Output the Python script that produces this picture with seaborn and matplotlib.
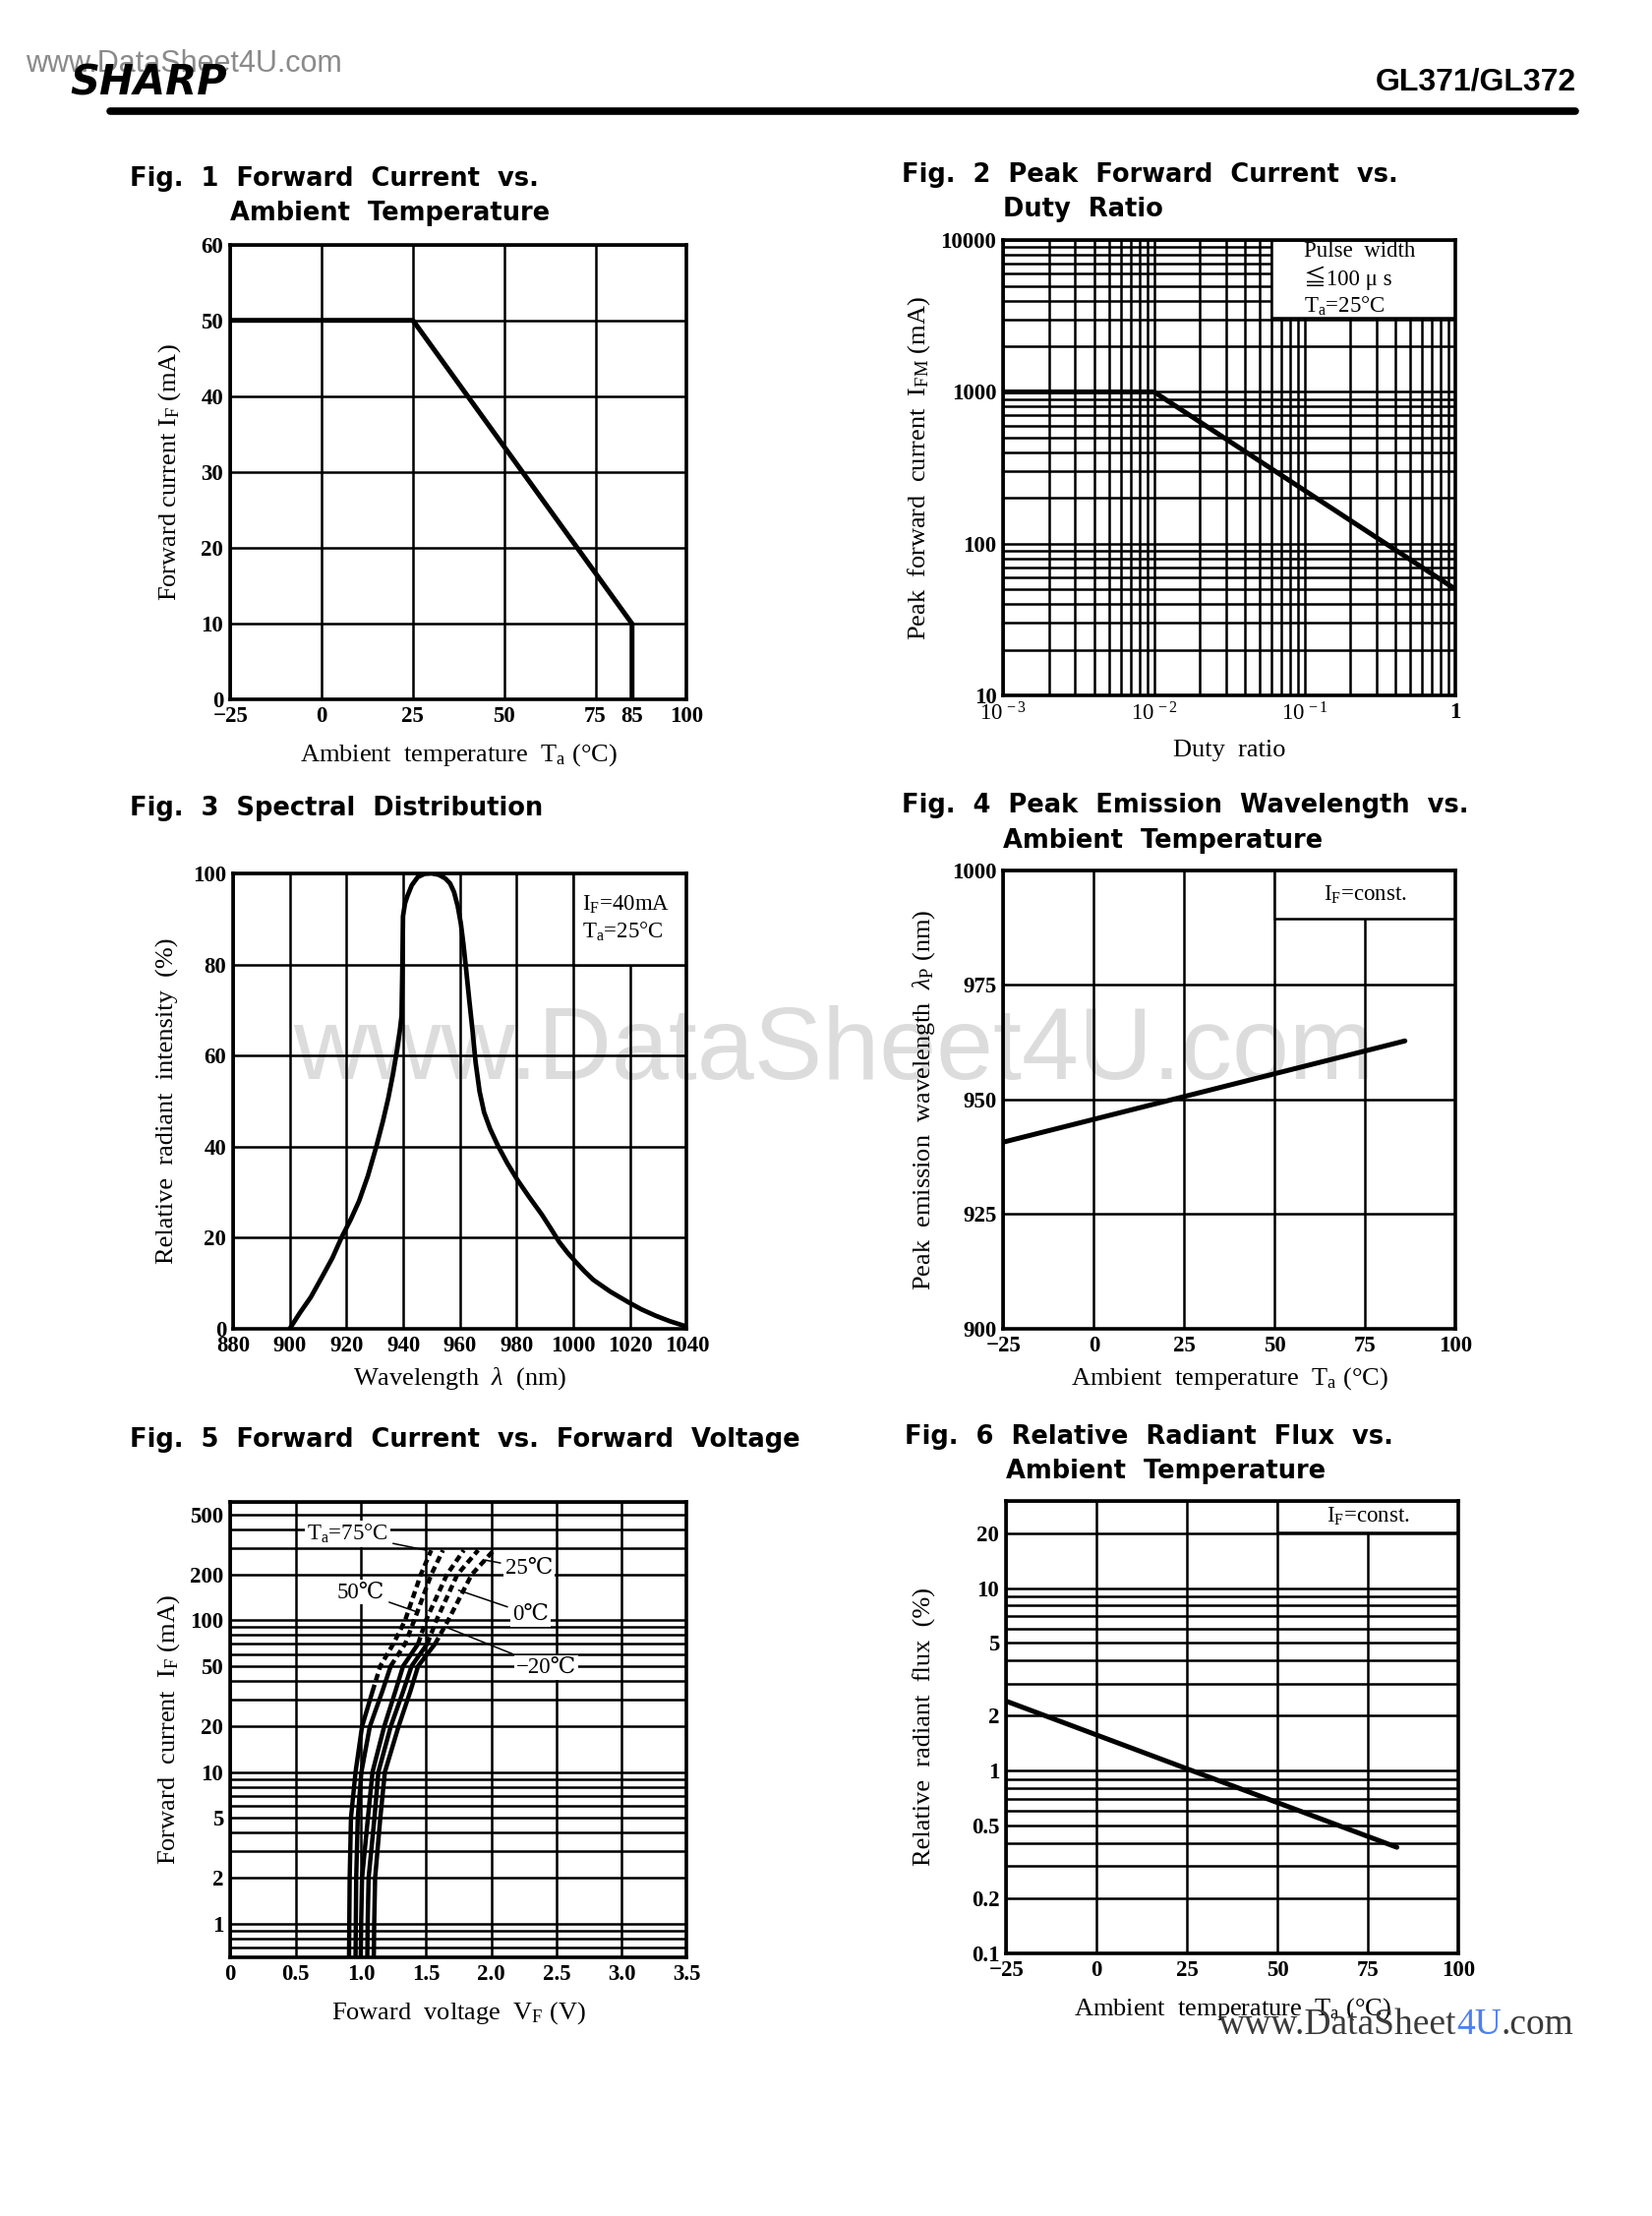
import matplotlib
matplotlib.use('Agg')
import matplotlib.pyplot as plt
import matplotlib.patches as patches
from matplotlib.ticker import LogLocator, NullFormatter, FixedLocator, FixedFormatter
import seaborn as sns

# ---- data ----
fig1_temp = [-25, 25, 85, 85]
fig1_if = [50, 50, 10, 0]

fig2_duty = [0.001, 0.01, 1]
fig2_ifm = [1000, 1000, 50]

fig3_wl = [900, 903.5, 907.4, 911.5, 915, 918.3, 921.5, 924.4, 927.5, 930.5, 932.8, 934.7,
           936.4, 937.8, 938.8, 939.4, 939.7, 939.9, 940.6, 941.5, 943, 945.1, 947.5, 950,
           952.5, 954.8, 956.5, 957.9, 959.2, 960.3, 961.2, 962.1, 963.3, 964.5, 965.5, 966.9,
           968.5, 970.6, 973.5, 976.7, 980.3, 984.5, 988.9, 992, 995, 998, 1001, 1004,
           1007, 1013, 1019.3, 1024, 1029, 1034, 1039.5]
fig3_rel = [0, 3.4, 6.9, 11.5, 15.5, 20.1, 24, 28, 33.5, 40, 45.5, 50.6,
            56, 61.2, 65.5, 68.7, 80, 90.6, 93.4, 95.1, 97.4, 99.2, 99.9, 100,
            99.7, 98.9, 97.8, 95.9, 92.8, 89, 84.5, 79.3, 72, 65, 58.5, 52.1,
            47.5, 43.9, 40, 36.3, 32.6, 28.8, 25, 22, 19, 16.6, 14.5, 12.5,
            10.7, 8.1, 5.8, 4.2, 2.8, 1.6, 0.5]

fig4_temp = [-25, 86]
fig4_wl = [940.7, 962.8]

fig5_if = [0.6, 1, 2, 5, 10, 20, 34, 50, 70, 100, 200, 290]
fig5_vf = {
    '75': [0.91, 0.912, 0.915, 0.925, 0.96, 1.01, 1.09, 1.15, 1.25, 1.34, 1.46, 1.54],
    '50': [0.96, 0.962, 0.965, 0.977, 1.005, 1.07, 1.165, 1.23, 1.34, 1.41, 1.54, 1.63],
    '25': [1.00, 1.003, 1.01, 1.055, 1.09, 1.18, 1.265, 1.325, 1.44, 1.50, 1.66, 1.79],
    '0': [1.05, 1.053, 1.06, 1.105, 1.135, 1.23, 1.325, 1.39, 1.51, 1.58, 1.74, 1.90],
    '-20': [1.10, 1.103, 1.11, 1.15, 1.185, 1.29, 1.38, 1.44, 1.57, 1.67, 1.85, 2.02],
}
fig5_limit = {'75': 34, '50': 50, '25': 70, '0': 70, '-20': 70}

fig6_temp = [-25, 83]
fig6_flux = [2.4, 0.38]

temp_ticks = [-25, 0, 25, 50, 75, 100]
temp_labels = ['\u221225', '0', '25', '50', '75', '100']

# ---- style ----
sns.set_style('white')
serif = ['Liberation Serif', 'DejaVu Serif', 'Noto Sans CJK JP']
plt.rcParams['font.family'] = serif
plt.rcParams['mathtext.fontset'] = 'custom'
plt.rcParams['mathtext.rm'] = 'Liberation Serif'
plt.rcParams['mathtext.it'] = 'Liberation Serif:italic'
plt.rcParams['mathtext.bf'] = 'Liberation Serif:bold'
for k in ['text.color', 'axes.labelcolor', 'xtick.color', 'ytick.color']:
    plt.rcParams[k] = 'black'

W, H = 1169, 1568
fig = plt.figure(figsize=[16.8, 22.53], dpi=100)
fig.patch.set_facecolor('white')


def rect(x0, x1, y0, y1):
    return [x0 / W, 1 - y1 / H, (x1 - x0) / W, (y1 - y0) / H]


def setup(ax):
    ax.set_facecolor('none')
    ax.set_axisbelow(True)
    for s in ax.spines.values():
        s.set_visible(True)
        s.set_color('black')
        s.set_linewidth(2.6)
    ax.tick_params(which='both', length=0, labelsize=16.5, pad=5)
    for lab in ax.get_xticklabels(which='both') + ax.get_yticklabels(which='both'):
        lab.set_fontweight('bold')


def grid(ax, xwhich='major', ywhich='major'):
    ax.xaxis.grid(True, which=xwhich, color='black', lw=1.8)
    ax.yaxis.grid(True, which=ywhich, color='black', lw=1.8)


def box(ax, x0, y0, text, tx, ha='left'):
    ax.add_patch(patches.Rectangle((x0, y0), 1 - x0, 1 - y0, transform=ax.transAxes,
                                   fc='white', ec='black', lw=1.8, zorder=2))
    ax.text(tx, (1 + y0) / 2, text, transform=ax.transAxes, ha=ha, va='center',
            fontsize=16.5, zorder=3, linespacing=1.25)


def title(x, y, s):
    fig.text(x / W, 1 - y / H, s, family=['DejaVu Sans'], weight='bold', fontsize=18.5,
             va='center', ha='left')


lab_kw = dict(fontsize=19)
deg = '\u00b0C'   # degree sign inside mathtext strings

# ---- header ----
fig.text(18 / W, 1 - 45 / H, 'www.DataSheet4U.com', family=['Liberation Sans'], fontsize=22,
         color='#8a8a8a', va='center')
fig.text(50 / W, 1 - 59 / H, 'SHARP', family=['DejaVu Sans'], weight='bold', style='italic',
         fontsize=30, va='center')
fig.text(1115 / W, 1 - 58 / H, 'GL371/GL372', family=['Liberation Sans'], weight='bold',
         fontsize=23, va='center', ha='right')
fig.add_artist(plt.Line2D([78 / W, 1115 / W], [1 - 78.5 / H, 1 - 78.5 / H], color='black',
                          lw=5.5, transform=fig.transFigure))

# center watermark (behind the charts)
fig.text(590 / W, 1 - 745 / H, 'www.DataSheet4U.com', family=['Liberation Sans'], fontsize=75,
         color='#dcdcdc', ha='center', va='center', zorder=-1)

# ---- Fig. 1 ----
title(92, 127, 'Fig.  1  Forward  Current  vs.')
title(163, 151, 'Ambient  Temperature')
ax1 = fig.add_axes(rect(163, 486, 173, 495))
sns.lineplot(x=fig1_temp, y=fig1_if, ax=ax1, color='black', lw=3.6, estimator=None, sort=False)
ax1.set_xlim(-25, 100)
ax1.set_ylim(0, 60)
ax1.set_xticks(temp_ticks)
ax1.set_xticklabels(temp_labels)
ax1.set_xticks([85], minor=True)
ax1.set_xticklabels(['85'], minor=True)
ax1.set_yticks([0, 10, 20, 30, 40, 50, 60])
grid(ax1)
ax1.set_xlabel('Ambient  temperature  T$_{\\rm a}$ (' + deg + ')', labelpad=11, **lab_kw)
ax1.set_ylabel('Forward current I$_{\\rm F}$ (mA)', labelpad=13, **lab_kw)
setup(ax1)

# ---- Fig. 2 ----
title(638, 124, 'Fig.  2  Peak  Forward  Current  vs.')
title(710, 148, 'Duty  Ratio')
ax2 = fig.add_axes(rect(710, 1030, 170, 492))
sns.lineplot(x=fig2_duty, y=fig2_ifm, ax=ax2, color='black', lw=3.6, estimator=None, sort=False)
ax2.set_xscale('log')
ax2.set_yscale('log')
ax2.set_xlim(1e-3, 1)
ax2.set_ylim(10, 10000)
ax2.xaxis.set_major_locator(FixedLocator([1e-3, 1e-2, 1e-1, 1]))
ax2.xaxis.set_major_formatter(FixedFormatter(['$10^{\\,-3}$', '$10^{\\,-2}$', '$10^{\\,-1}$', '1']))
ax2.yaxis.set_major_locator(FixedLocator([10, 100, 1000, 10000]))
ax2.yaxis.set_major_formatter(FixedFormatter(['10', '100', '1000', '10000']))
for a in (ax2.xaxis, ax2.yaxis):
    a.set_minor_locator(LogLocator(base=10, subs=range(2, 10), numticks=20))
    a.set_minor_formatter(NullFormatter())
grid(ax2, 'both', 'both')
box(ax2, 0.593, 0.83, 'Pulse  width\n\u2266100 \u03bc s\nT$_{\\rm a}$=25' + deg, 0.665)
ax2.set_xlabel('Duty  ratio', labelpad=11, **lab_kw)
ax2.set_ylabel('Peak  forward  current  I$_{\\rm FM}$ (mA)', labelpad=6, **lab_kw)
setup(ax2)

# ---- Fig. 3 ----
title(92, 572, 'Fig.  3  Spectral  Distribution')
ax3 = fig.add_axes(rect(165, 486, 618, 940))
sns.lineplot(x=fig3_wl, y=fig3_rel, ax=ax3, color='black', lw=3.4, estimator=None, sort=False)
ax3.set_xlim(880, 1040)
ax3.set_ylim(0, 100)
ax3.set_xticks(range(880, 1041, 20))
ax3.set_yticks(range(0, 101, 20))
grid(ax3)
box(ax3, 0.75, 0.80, 'I$_{\\rm F}$=40mA\nT$_{\\rm a}$=25' + deg, 0.77)
ax3.set_xlabel('Wavelength  $\\lambda$  (nm)', labelpad=7, **lab_kw)
ax3.set_ylabel('Relative  radiant  intensity  (%)', labelpad=10, **lab_kw)
setup(ax3)

# ---- Fig. 4 ----
title(638, 570, 'Fig.  4  Peak  Emission  Wavelength  vs.')
title(710, 595, 'Ambient  Temperature')
ax4 = fig.add_axes(rect(710, 1030, 616, 940))
sns.lineplot(x=fig4_temp, y=fig4_wl, ax=ax4, color='black', lw=3.6, estimator=None, sort=False)
ax4.set_xlim(-25, 100)
ax4.set_ylim(900, 1000)
ax4.set_xticks(temp_ticks)
ax4.set_xticklabels(temp_labels)
ax4.set_yticks([900, 925, 950, 975, 1000])
grid(ax4)
box(ax4, 0.6, 0.895, 'I$_{\\rm F}$=const.', 0.8, ha='center')
ax4.set_xlabel('Ambient  temperature  T$_{\\rm a}$ (' + deg + ')', labelpad=7, **lab_kw)
ax4.set_ylabel('Peak  emission  wavelength  $\\lambda$$_{\\rm P}$ (nm)', labelpad=11, **lab_kw)
setup(ax4)

# ---- Fig. 5 ----
title(92, 1019, 'Fig.  5  Forward  Current  vs.  Forward  Voltage')
ax5 = fig.add_axes(rect(163, 486, 1063, 1385))
for key, vf in fig5_vf.items():
    lim = fig5_limit[key]
    solid_v = [v for v, i in zip(vf, fig5_if) if i <= lim]
    solid_i = [i for i in fig5_if if i <= lim]
    dash_v = [v for v, i in zip(vf, fig5_if) if i >= lim]
    dash_i = [i for i in fig5_if if i >= lim]
    sns.lineplot(x=solid_v, y=solid_i, ax=ax5, color='black', lw=3.2, estimator=None, sort=False)
    sns.lineplot(x=dash_v, y=dash_i, ax=ax5, color='black', lw=3.2, estimator=None, sort=False,
                 linestyle=(0, (1.6, 1.0)))
ax5.set_yscale('log')
ax5.set_xlim(0, 3.5)
ax5.set_ylim(0.6, 600)
ax5.set_xticks([0, 0.5, 1.0, 1.5, 2.0, 2.5, 3.0, 3.5])
ax5.set_xticklabels(['0', '0.5', '1.0', '1.5', '2.0', '2.5', '3.0', '3.5'])
y5 = [1, 2, 5, 10, 20, 50, 100, 200, 500]
ax5.yaxis.set_major_locator(FixedLocator(y5))
ax5.yaxis.set_major_formatter(FixedFormatter([str(v) for v in y5]))
ax5.yaxis.set_minor_locator(LogLocator(base=10, subs=range(2, 10), numticks=20))
ax5.yaxis.set_minor_formatter(NullFormatter())
grid(ax5, 'major', 'both')
ann_kw = dict(fontsize=16.5, ha='center', va='center', zorder=4,
              bbox=dict(fc='white', ec='none', pad=1.5),
              arrowprops=dict(arrowstyle='-', color='black', lw=1.1, shrinkA=2, shrinkB=0))
ax5.annotate('T$_{\\rm a}$=75' + deg, xy=(1.50, 290), xytext=(0.90, 370), **ann_kw)
ax5.annotate('50\u2103', xy=(1.44, 113), xytext=(1.00, 153), **ann_kw)
ax5.annotate('25\u2103', xy=(1.95, 250), xytext=(2.29, 220), **ann_kw)
ax5.annotate('0\u2103', xy=(1.75, 158), xytext=(2.30, 109), **ann_kw)
ax5.annotate('\u221220\u2103', xy=(1.67, 89), xytext=(2.42, 49), **ann_kw)
ax5.set_xlabel('Foward  voltage  V$_{\\rm F}$ (V)', labelpad=11, **lab_kw)
ax5.set_ylabel('Forward  current  I$_{\\rm F}$ (mA)', labelpad=6, **lab_kw)
setup(ax5)

# ---- Fig. 6 ----
title(640, 1017, 'Fig.  6  Relative  Radiant  Flux  vs.')
title(712, 1041, 'Ambient  Temperature')
ax6 = fig.add_axes(rect(712, 1032, 1062, 1382))
sns.lineplot(x=fig6_temp, y=fig6_flux, ax=ax6, color='black', lw=3.6, estimator=None, sort=False)
ax6.set_yscale('log')
ax6.set_xlim(-25, 100)
ax6.set_ylim(0.1, 30)
ax6.set_xticks(temp_ticks)
ax6.set_xticklabels(temp_labels)
y6 = [0.1, 0.2, 0.5, 1, 2, 5, 10, 20]
ax6.yaxis.set_major_locator(FixedLocator(y6))
ax6.yaxis.set_major_formatter(FixedFormatter(['0.1', '0.2', '0.5', '1', '2', '5', '10', '20']))
ax6.yaxis.set_minor_locator(LogLocator(base=10, subs=range(2, 10), numticks=20))
ax6.yaxis.set_minor_formatter(NullFormatter())
grid(ax6, 'major', 'both')
box(ax6, 0.6, 0.93, 'I$_{\\rm F}$=const.', 0.8, ha='center')
ax6.set_xlabel('Ambient  temperature  T$_{\\rm a}$ (' + deg + ')', labelpad=11, **lab_kw)
ax6.set_ylabel('Relative  radiant  flux  (%)', labelpad=26, **lab_kw)
setup(ax6)

# ---- bottom right watermark ----
r = fig.canvas.get_renderer()
x = 862 / W
for part, col in [('www.DataSheet', '#3a3a3a'), ('4U', '#4f7fef'), ('.com', '#3a3a3a')]:
    t = fig.text(x, 1 - 1433 / H, part, family=['Liberation Serif'], fontsize=27, color=col,
                 va='center', ha='left')
    bb = t.get_window_extent(renderer=r)
    x = bb.x1 / (fig.get_figwidth() * fig.dpi)

plt.savefig('out.png', dpi=100, facecolor='white')
